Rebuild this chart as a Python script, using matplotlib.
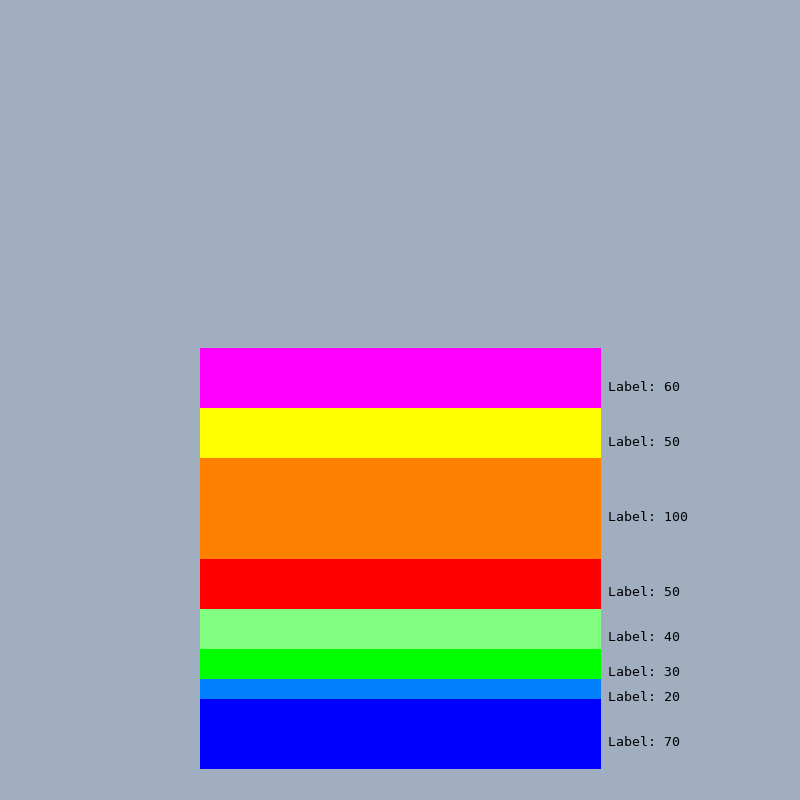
import matplotlib
matplotlib.use("Agg")
import matplotlib.pyplot as plt

# stacked from bottom to top
values = [70, 20, 30, 40, 50, 100, 50, 60]
colors = ['#0000ff', '#0080ff', '#00ff00', '#80ff80', '#ff0000', '#ff8000', '#ffff00', '#ff00ff']
labels = ['Label: %d' % v for v in values]

bg = '#a0aebf'
fig = plt.figure(figsize=(8, 8), dpi=100, facecolor=bg)
ax = fig.add_axes([0.25, 31 / 800, 401 / 800, 421 / 800])
ax.set_facecolor(bg)

bottom = 0
for v, c, lab in zip(values, colors, labels):
    ax.bar(0, v, width=1.0, bottom=bottom, color=c, linewidth=0)
    ax.annotate(lab, xy=(0.5, bottom + v / 2), xytext=(5, -6.5),
                textcoords='offset points', va='center', ha='left',
                family='DejaVu Sans Mono', fontsize=9.5, color='black',
                annotation_clip=False)
    bottom += v

ax.set_xlim(-0.5, 0.5)
ax.set_ylim(0, sum(values))
ax.axis('off')

fig.savefig('out.png', dpi=100, facecolor=bg)
